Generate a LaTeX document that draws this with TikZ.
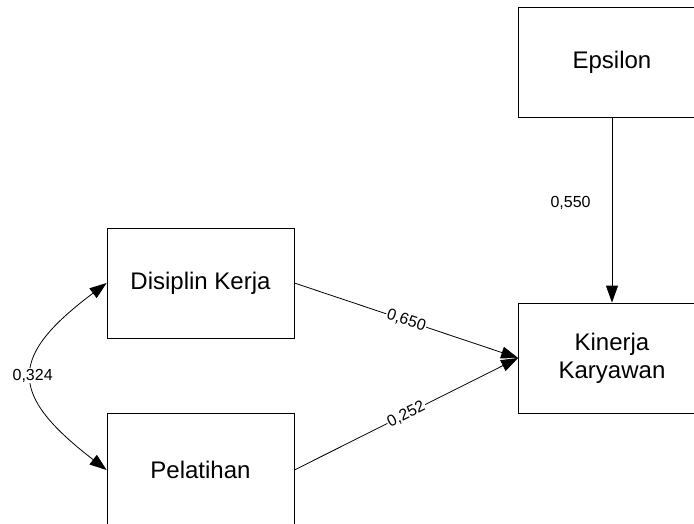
\documentclass[tikz,border=0pt]{standalone}
\usepackage{fontspec}
\setmainfont{Liberation Sans}
\usetikzlibrary{arrows.meta}
\begin{document}
\begin{tikzpicture}[x=1pt,y=-1pt,
		box/.style={draw,line width=0.8pt,minimum width=187pt,minimum height=110pt,align=center,font=\fontsize{24}{28}\selectfont},
		coef/.style={font=\fontsize{16}{19}\selectfont,inner sep=1pt},
		>={Triangle[length=17pt,width=12pt]}]
				\clip (0,0) rectangle (694,523);
				\node[box] (eps) at (612,62) {Epsilon};
				\node[box] (dis) at (200.5,283) {Disiplin Kerja};
				\node[box] (kin) at (612,358) {Kinerja\\Karyawan};
				\node[box,minimum height=114pt] (pel) at (200.5,470) {Pelatihan};
				\draw[line width=0.8pt,->] (eps) -- node[coef,left=20pt,pos=0.46] {0,550} (kin);
				\draw[line width=0.8pt,->] (dis.east) -- node[coef,fill=white,sloped] {0,650} (kin.west);
				\draw[line width=0.8pt,->] (pel.east) -- node[coef,fill=white,sloped] {0,252} (kin.west);
				\draw[line width=0.8pt,<->] (dis.west) .. controls (8,357) and (8,394) .. node[coef,fill=white] {0,324} (pel.west);
			\end{tikzpicture}
\end{document}
